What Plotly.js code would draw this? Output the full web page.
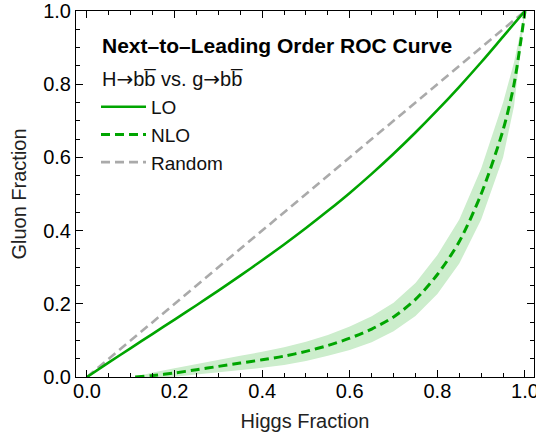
<!DOCTYPE html>
<html>
<head>
<meta charset="utf-8">
<script src="https://cdn.plot.ly/plotly-3.0.1.min.js"></script>
<style>html,body{margin:0;padding:0;background:#fff;}#chart{width:536px;height:433px;}</style>
</head>
<body>
<div id="chart"></div>
<script>
// Random (diagonal) reference
const randomX = [0, 1];
const randomY = [0, 1];

// LO ROC curve
const loX = [0, 0.05, 0.1, 0.15, 0.2, 0.25, 0.3, 0.35, 0.4, 0.45, 0.5, 0.55, 0.6, 0.65, 0.7, 0.75, 0.8, 0.85, 0.9, 0.95, 1.0];
const loY = [0, 0.04, 0.079, 0.118, 0.157, 0.196, 0.236, 0.277, 0.319, 0.362, 0.407, 0.454, 0.503, 0.555, 0.61, 0.668, 0.729, 0.793, 0.86, 0.93, 1.0];

// NLO ROC curve with uncertainty band
const nloX = [0.11, 0.15, 0.2, 0.25, 0.3, 0.35, 0.4, 0.45, 0.5, 0.55, 0.6, 0.65, 0.7, 0.75, 0.8, 0.85, 0.9, 0.95, 0.975, 1.0];
const nloY = [0, 0.004, 0.011, 0.02, 0.029, 0.038, 0.047, 0.057, 0.07, 0.086, 0.106, 0.131, 0.164, 0.212, 0.28, 0.37, 0.5, 0.675, 0.8, 1.0];
const nloUpper = [0, 0.012, 0.024, 0.036, 0.047, 0.058, 0.069, 0.081, 0.096, 0.115, 0.138, 0.166, 0.203, 0.257, 0.333, 0.43, 0.57, 0.75, 0.86, 1.0];
const nloLower = [-0.01, -0.005, 0.0, 0.006, 0.012, 0.018, 0.025, 0.033, 0.044, 0.058, 0.074, 0.095, 0.125, 0.167, 0.227, 0.31, 0.43, 0.6, 0.74, 1.0];

const xTicks = [0, 0.2, 0.4, 0.6, 0.8, 1.0];
const xTickText = ['0.0', '0.2', '0.4', '0.6', '0.8', '1.0'];
const yTicks = [0, 0.2, 0.4, 0.6, 0.8, 1.0];
const yTickText = ['0.0', '0.2', '0.4', '0.6', '0.8', '1.0'];

const ARROW = '<span style="font-family:DejaVu Sans">\u2192</span>';
const header1 = '<b>Next\u2013to\u2013Leading Order ROC Curve</b>';
const header2 = 'H' + ARROW + 'bb\u0305 vs. g' + ARROW + 'bb\u0305';

const GREEN = '#00a500';
const BAND = 'rgb(204,237,204)';
const GRAY = '#aaaaaa';
const FONT = 'Liberation Sans, Arial, Helvetica, sans-serif';

const traces = [
  {x: nloX, y: nloLower, mode: 'lines', line: {width: 0, color: BAND}, showlegend: false, hoverinfo: 'skip'},
  {x: nloX, y: nloUpper, mode: 'lines', line: {width: 0, color: BAND}, fill: 'tonexty', fillcolor: BAND, showlegend: false, hoverinfo: 'skip'},
  {x: randomX, y: randomY, mode: 'lines', name: 'Random', line: {color: GRAY, width: 2.6, dash: '9px,5px'}, legendrank: 3},
  {x: loX, y: loY, mode: 'lines', name: 'LO', line: {color: GREEN, width: 2.6, shape: 'spline', smoothing: 0.8}, legendrank: 1},
  {x: nloX, y: nloY, mode: 'lines', name: 'NLO', line: {color: GREEN, width: 3, dash: '9px,5px', shape: 'spline', smoothing: 0.8}, legendrank: 2}
];

const axisCommon = {
  showgrid: false, zeroline: false, showline: true, linecolor: '#000', linewidth: 1,
  mirror: 'ticks', ticks: 'inside', ticklen: 7, tickwidth: 1, tickcolor: '#000',
  tickfont: {family: FONT, size: 20, color: '#000'},
  ticklabeloverflow: 'allow',
  minor: {dtick: 0.05, ticks: 'inside', ticklen: 4, tickwidth: 1, tickcolor: '#000', showgrid: false}
};

const layout = {
  width: 536, height: 433,
  margin: {l: 76, r: 2, t: 11, b: 56},
  paper_bgcolor: '#fff', plot_bgcolor: '#fff',
  font: {family: FONT, size: 20, color: '#000'},
  xaxis: Object.assign({}, axisCommon, {
    range: [-0.0251, 1.0206], tickvals: xTicks, ticktext: xTickText,
    ticklabelstandoff: -4,
    title: {text: 'Higgs Fraction', font: {family: FONT, size: 20, color: '#222'}, standoff: 12}
  }),
  yaxis: Object.assign({}, axisCommon, {
    range: [0, 1], tickvals: yTicks, ticktext: yTickText,
    title: {text: 'Gluon Fraction', font: {family: FONT, size: 20, color: '#222'}, standoff: 11}
  }),
  showlegend: true,
  legend: {
    x: 0.0437, xanchor: 'left', y: 0.79, yanchor: 'top',
    bgcolor: 'rgba(0,0,0,0)', borderwidth: 0,
    font: {family: FONT, size: 19, color: '#111'},
    traceorder: 'normal', itemwidth: 45, tracegroupgap: 0
  },
  annotations: [
    {xref: 'paper', yref: 'paper', x: 0.0524, y: 0.907, xanchor: 'left', yanchor: 'middle', showarrow: false,
     text: header1, font: {family: FONT, size: 21, color: '#000'}},
    {xref: 'paper', yref: 'paper', x: 0.0524, y: 0.814, xanchor: 'left', yanchor: 'middle', showarrow: false,
     text: header2, font: {family: FONT, size: 20, color: '#111'}}
  ]
};

Plotly.newPlot('chart', traces, layout, {staticPlot: true, displayModeBar: false});
</script>
</body>
</html>
